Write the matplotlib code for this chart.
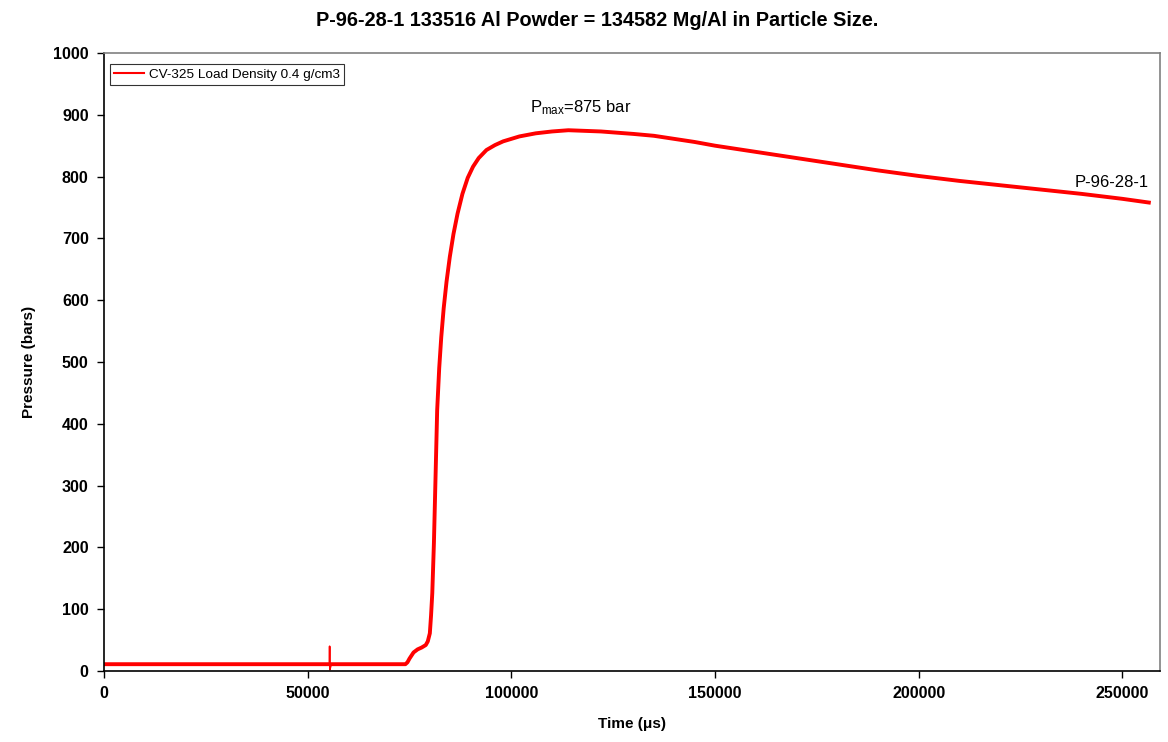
import numpy as np
import matplotlib
matplotlib.use("Agg")
import matplotlib.pyplot as plt

plt.rcParams['font.family'] = ['Liberation Sans', 'DejaVu Sans']
plt.rcParams['mathtext.fontset'] = 'custom'
plt.rcParams['mathtext.rm'] = 'Liberation Sans'
plt.rcParams['mathtext.it'] = 'Liberation Sans:italic'

# pressure trace, time in microseconds
time_us = [0, 20000, 40000, 55000, 74000, 74500, 75000,
           75500, 76000, 77000, 78000, 79000, 79500, 80000, 80300, 80600, 81000,
           81400, 81800, 82300, 82800, 83400, 84100, 84900, 85800, 86800, 88000,
           89300, 90600, 92000, 93900, 96000, 98000, 102000, 106000,
           110000, 114000, 118000, 122000, 126000, 130000, 135000, 140000, 145000, 150000,
           160000, 170000, 180000, 190000, 200000, 210000, 220000, 230000, 240000, 250000,
           256500]
pressure_bar = [11, 11, 11, 11, 11, 14, 20,
                25, 30, 35, 38, 42, 48, 61, 90, 126, 207,
                314, 422, 490, 540, 587, 630, 670, 707, 740, 772,
                798, 816, 830, 843, 851, 857, 865, 870,
                873, 875, 874, 873, 871, 869, 866, 861, 856, 850,
                840, 830, 820, 810, 801, 793, 786, 779, 772, 764,
                758]

# single-sample glitch on the baseline
spike_time_us = [55000, 55350, 55400, 55450, 55800]
spike_bar = [11, 11, 40, 2, 11]

fig = plt.figure(figsize=(11.68, 7.42), dpi=100)
ax = fig.add_axes([0.089, 0.0957, 0.904, 0.8329])

ax.plot(time_us, pressure_bar, color='#ff0000', lw=2.8,
        label='CV-325 Load Density 0.4 g/cm3')
ax.plot(spike_time_us, spike_bar, color='#ff0000', lw=1.2)

ax.set_xlim(0, 259200)
ax.set_ylim(0, 1000)
ax.set_xticks(np.arange(0, 250001, 50000))
ax.set_yticks(np.arange(0, 1001, 100))
ax.tick_params(direction='out', length=5, width=1, labelsize=11.6, pad=6)
for lbl in ax.get_xticklabels() + ax.get_yticklabels():
    lbl.set_fontweight('bold')

ax.spines['top'].set_color('#808080')
ax.spines['right'].set_color('#808080')
ax.spines['left'].set_color('black')
ax.spines['bottom'].set_color('black')
for s in ax.spines.values():
    s.set_linewidth(1.2)

fig.suptitle('P-96-28-1 133516 Al Powder = 134582 Mg/Al in Particle Size.',
             x=0.511, y=0.973, va='center', fontsize=14.3, fontweight='bold')
ax.set_xlabel('Time (\u03bcs)', fontsize=11, fontweight='bold', labelpad=11)
ax.set_ylabel('Pressure (bars)', fontsize=11, fontweight='bold', labelpad=12)

ax.text(104500, 912, r'P$_{\mathrm{max}}$=875 bar', fontsize=12, va='center', ha='left')
ax.text(238200, 791, 'P-96-28-1', fontsize=12, va='center', ha='left')

leg = ax.legend(loc='upper left', bbox_to_anchor=(0.006, 0.982), fontsize=9.7,
                frameon=True, fancybox=False, handlelength=2.2, borderpad=0.3,
                handletextpad=0.4, borderaxespad=0)
leg.get_frame().set_edgecolor('black')
leg.get_frame().set_linewidth(0.8)
leg.get_lines()[0].set_linewidth(1.5)

fig.savefig('out.png', dpi=100)
